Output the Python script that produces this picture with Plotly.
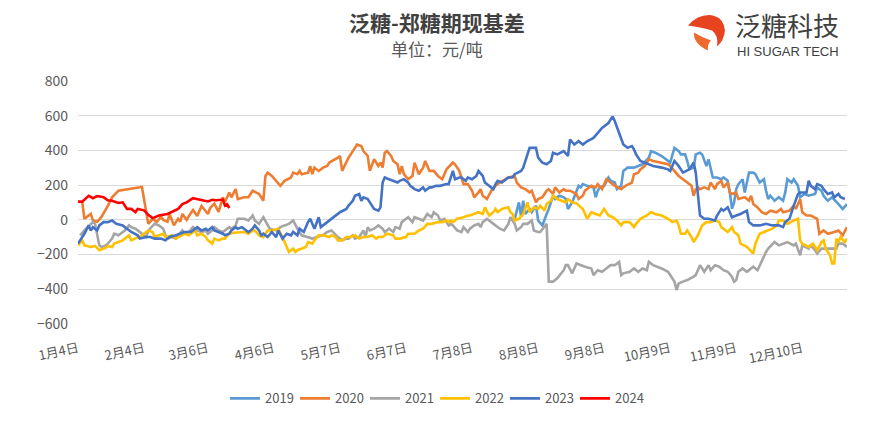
import pandas as pd
import plotly.graph_objects as go

# ---- data: (day of year, basis in 元/吨) ----
S2019 = [(209,6),(211,101),(212,17),(213,110),(214,34),(216,63),(217,44),(219,82),(220,-4),(222,-32),(224,34),(225,63),(227,139),(228,120),(230,139),(232,130),(233,120),(234,63),(236,101),(238,158),(239,196),(240,187),(241,206),(243,196),(246,187),(247,130),(248,168),(249,187),(251,196),(253,244),(254,225),(256,215),(257,177),(259,196),(260,282),(262,301),(265,301),(267,310),(269,320),(272,358),(273,396),(275,387),(278,368),(280,349),(282,330),(284,415),(286,396),(287,377),(289,377),(290,339),(291,291),(293,301),(294,377),(296,387),(297,377),(299,310),(300,349),(302,244),(304,244),(306,234),(307,244),(309,225),(310,158),(311,63),(312,101),(313,177),(314,206),(316,234),(317,158),(318,215),(319,272),(321,272),(322,263),(324,215),(326,234),(327,168),(328,120),(329,139),(331,110),(333,130),(335,110),(336,158),(337,234),(339,215),(340,234),(342,196),(343,130),(345,149),(347,139),(350,149),(351,187),(353,168),(354,139),(356,110),(358,130),(361,91),(363,63),(365,91)]

S2020 = [(6,103),(7,6),(10,34),(11,-4),(13,-11),(15,17),(18,80),(20,130),(23,168),(34,190),(37,-23),(39,6),(41,-11),(43,17),(44,0),(46,-11),(47,34),(49,-32),(51,6),(52,-11),(53,34),(55,0),(57,40),(58,57),(60,23),(62,80),(65,34),(66,67),(68,93),(70,46),(72,130),(73,103),(75,158),(76,130),(78,177),(79,120),(82,130),(84,130),(86,168),(89,149),(90,130),(91,110),(92,253),(93,272),(95,253),(97,225),(99,196),(101,225),(104,244),(105,272),(107,263),(108,282),(109,263),(112,272),(113,310),(114,263),(115,301),(117,282),(119,301),(121,310),(122,330),(126,358),(127,368),(128,282),(130,330),(131,358),(133,396),(134,415),(135,434),(137,425),(138,396),(140,368),(141,282),(143,349),(145,310),(146,330),(147,301),(148,387),(149,396),(151,368),(152,339),(154,320),(155,263),(156,310),(157,263),(159,234),(161,253),(162,330),(164,263),(166,301),(167,339),(169,282),(171,282),(173,253),(175,234),(177,291),(180,330),(181,320),(183,282),(185,206),(187,206),(189,168),(190,130),(192,158),(193,177),(194,139),(196,120),(198,168),(200,196),(202,215),(206,244),(209,253),(210,215),(212,187),(214,177),(216,158),(217,168),(219,101),(220,120),(222,130),(224,168),(225,177),(227,149),(228,187),(230,158),(232,177),(233,168),(235,168),(238,149),(239,120),(241,139),(242,168),(245,196),(247,187),(248,206),(250,177),(252,234),(254,215),(256,196),(259,177),(261,196),(264,215),(265,263),(267,272),(268,291),(270,310),(272,349),(274,339),(277,330),(281,320),(282,310),(284,282),(286,253),(288,234),(290,215),(292,196),(293,139),(294,177),(295,187),(296,177),(298,187),(300,177),(301,215),(303,177),(304,206),(306,225),(307,187),(309,215),(310,158),(311,149),(313,158),(314,120),(317,130),(319,110),(320,139),(321,91),(323,72),(325,44),(327,34),(329,53),(332,44),(334,63),(335,44),(338,53),(340,82),(341,63),(343,120),(344,44),(346,25),(348,25),(351,6),(352,-80),(354,-61),(356,-80),(359,-70),(361,-61),(363,-89),(365,-42)]

S2021 = [(5,-89),(7,-61),(11,-13),(12,-23),(14,-147),(15,-156),(17,-147),(18,-137),(20,-108),(21,-80),(23,-89),(25,-70),(26,-61),(28,-32),(29,-42),(31,-51),(32,-61),(34,-80),(36,-99),(37,-61),(39,-32),(40,-23),(42,-32),(44,-51),(45,-89),(46,-108),(48,-99),(50,-108),(51,-89),(53,-61),(54,-80),(56,-70),(58,-42),(59,-51),(60,-61),(62,-70),(64,-61),(65,-80),(67,-61),(68,-42),(70,-61),(72,-70),(73,-61),(75,-42),(76,-51),(78,-32),(79,6),(82,6),(84,-4),(86,25),(87,-4),(89,-23),(91,15),(93,-32),(94,-51),(97,-61),(99,-42),(101,-32),(103,-23),(105,-4),(106,-32),(107,-51),(109,-89),(112,-99),(114,-108),(116,-99),(119,-89),(121,-70),(123,-61),(126,-99),(128,-118),(130,-108),(131,-108),(133,-89),(134,-108),(136,-99),(138,-61),(139,-99),(140,-42),(141,-61),(143,-51),(145,-32),(147,-51),(148,-70),(150,-51),(152,-70),(153,-42),(155,-51),(156,-13),(158,6),(159,15),(161,-13),(162,15),(164,6),(166,-4),(167,15),(168,34),(170,15),(171,44),(173,25),(174,-4),(176,6),(178,-32),(179,-23),(180,-32),(182,-61),(184,-70),(185,-42),(187,-70),(188,-51),(190,-32),(192,-23),(193,-42),(194,-13),(196,6),(198,-13),(199,-23),(201,-42),(202,-51),(204,-61),(206,-23),(207,15),(209,-23),(210,-61),(212,-42),(213,-23),(215,-23),(217,-4),(218,-61),(220,-70),(221,-70),(224,-23),(225,-356),(227,-356),(229,-337),(232,-290),(233,-261),(234,-261),(236,-308),(238,-251),(240,-261),(242,-270),(245,-280),(246,-318),(248,-290),(250,-299),(252,-280),(254,-261),(256,-261),(258,-242),(259,-318),(260,-308),(263,-299),(265,-280),(267,-299),(269,-280),(271,-290),(272,-242),(274,-261),(278,-280),(281,-299),(282,-318),(284,-356),(285,-404),(286,-366),(288,-356),(290,-347),(293,-327),(294,-318),(295,-290),(296,-261),(298,-299),(300,-261),(301,-290),(303,-261),(305,-270),(307,-290),(309,-299),(311,-327),(312,-356),(313,-347),(314,-299),(316,-280),(318,-299),(319,-290),(321,-270),(323,-290),(325,-232),(327,-185),(328,-166),(331,-128),(333,-147),(335,-137),(337,-128),(340,-147),(341,-137),(343,-204),(344,-147),(347,-166),(348,-147),(350,-175),(351,-194),(353,-166),(355,-166),(358,-166),(360,-166),(361,-137),(363,-137),(365,-156)]

S2022 = [(4,-147),(6,-118),(7,-147),(10,-156),(12,-150),(14,-175),(17,-162),(18,-150),(20,-156),(21,-137),(23,-128),(25,-118),(26,-108),(28,-89),(29,-118),(31,-108),(32,-99),(34,-89),(36,-70),(37,-61),(39,-70),(40,-99),(42,-89),(44,-80),(45,-99),(46,-99),(48,-89),(50,-108),(51,-99),(53,-89),(54,-80),(56,-89),(58,-70),(59,-61),(60,-89),(62,-80),(64,-99),(65,-118),(67,-137),(68,-108),(70,-118),(72,-108),(73,-108),(75,-80),(77,-74),(79,-74),(82,-70),(84,-80),(86,-61),(87,-61),(89,-89),(91,-99),(92,-80),(93,-61),(95,-61),(98,-51),(100,-99),(101,-128),(103,-185),(105,-166),(106,-185),(107,-175),(109,-166),(111,-156),(112,-128),(114,-137),(115,-118),(117,-89),(119,-89),(122,-99),(123,-89),(125,-99),(126,-118),(128,-118),(130,-99),(132,-99),(134,-89),(136,-108),(138,-99),(140,-99),(142,-89),(144,-108),(145,-99),(147,-99),(149,-80),(152,-89),(153,-108),(155,-108),(158,-99),(159,-80),(162,-80),(164,-61),(166,-51),(168,-23),(170,-23),(173,-13),(175,-13),(177,-4),(178,-13),(179,-4),(180,-13),(182,6),(185,15),(187,25),(188,25),(190,34),(192,44),(194,34),(195,72),(197,25),(199,44),(200,63),(201,44),(203,63),(206,72),(207,44),(208,34),(209,-4),(211,6),(213,34),(215,101),(216,44),(218,72),(220,63),(221,82),(223,53),(224,91),(226,110),(227,139),(229,120),(231,110),(233,101),(234,120),(236,101),(238,95),(240,72),(241,63),(243,6),(245,44),(247,34),(249,25),(251,63),(253,25),(255,15),(257,-4),(259,-32),(260,-13),(263,-13),(265,-42),(266,-23),(268,6),(271,25),(273,44),(275,34),(278,25),(281,6),(283,-13),(285,-4),(286,-32),(287,-80),(289,-80),(290,-61),(292,-99),(293,-128),(295,-89),(297,-32),(299,-13),(301,-13),(303,-4),(305,-13),(306,-42),(307,-51),(309,-70),(311,-42),(312,-70),(314,-89),(315,-137),(318,-156),(320,-185),(321,-194),(322,-137),(324,-80),(326,-70),(328,-61),(330,-51),(332,-32),(333,-4),(335,-4),(337,-23),(340,-4),(342,6),(343,-118),(344,-137),(347,-156),(349,-137),(351,-175),(353,-128),(354,-118),(355,-166),(357,-204),(358,-251),(359,-251),(360,-108),(361,-128),(362,-99),(364,-128),(365,-108)]

S2023 = [(4,-137),(6,-99),(7,-80),(9,-32),(10,-61),(11,-42),(13,-61),(14,-32),(16,-13),(18,-13),(20,-4),(22,-23),(25,-32),(27,-51),(29,-70),(32,-89),(33,-108),(36,-99),(38,-99),(40,-108),(43,-108),(45,-118),(47,-99),(50,-89),(52,-80),(54,-70),(57,-70),(59,-51),(60,-42),(62,-61),(64,-51),(65,-61),(67,-42),(68,-61),(70,-70),(72,-80),(73,-89),(75,-80),(76,-61),(78,-42),(79,-51),(81,-42),(83,-61),(84,-70),(86,-51),(87,-32),(89,-61),(90,-89),(91,-80),(93,-99),(95,-70),(97,-99),(98,-61),(100,-108),(102,-80),(104,-89),(105,-70),(107,-89),(108,-51),(110,-70),(112,-13),(113,6),(115,-51),(116,-13),(117,15),(118,-42),(120,-23),(123,6),(125,25),(127,44),(130,63),(131,82),(133,110),(134,139),(136,149),(137,110),(138,130),(140,120),(141,101),(143,63),(145,53),(146,72),(147,215),(148,244),(150,234),(152,225),(154,215),(155,225),(157,234),(159,215),(160,196),(162,177),(164,168),(166,187),(167,168),(169,187),(170,187),(172,196),(174,196),(177,206),(178,206),(180,282),(181,234),(183,244),(184,244),(186,225),(187,244),(189,234),(191,253),(192,282),(194,253),(195,215),(197,196),(199,177),(200,206),(201,225),(203,215),(205,234),(206,244),(208,244),(209,263),(212,282),(213,301),(215,377),(216,415),(219,415),(220,358),(222,330),(224,320),(226,339),(227,387),(229,377),(231,387),(232,396),(234,368),(235,463),(237,434),(239,453),(241,434),(243,453),(246,472),(248,501),(250,530),(253,558),(255,596),(256,568),(258,501),(260,434),(262,415),(264,425),(265,406),(266,377),(268,339),(272,320),(274,310),(278,301),(281,291),(282,282),(284,339),(286,310),(288,272),(291,291),(293,330),(294,272),(295,139),(296,25),(298,6),(300,6),(303,-4),(304,25),(306,63),(307,53),(309,72),(311,15),(313,25),(315,34),(318,53),(319,-13),(321,-32),(324,-32),(327,-23),(330,-32),(333,-32),(335,-42),(336,-13),(338,6),(340,82),(342,149),(343,158),(346,158),(347,225),(348,196),(350,177),(351,206),(353,196),(354,177),(356,149),(358,158),(359,130),(361,149),(362,130),(364,120)]

S2024 = [(4,105),(6,105),(9,139),(11,125),(13,137),(16,130),(18,113),(20,110),(23,97),(25,101),(27,63),(29,63),(31,44),(32,63),(35,55),(37,29),(39,10),(42,25),(46,34),(51,63),(53,91),(55,101),(58,125),(60,120),(62,113),(65,106),(67,115),(69,113),(72,117),(73,82),(74,90),(75,67)]

SERIES = [("2019", S2019, "#5B9BD5"), ("2020", S2020, "#ED7D31"), ("2021", S2021, "#A5A5A5"),
          ("2022", S2022, "#FFC000"), ("2023", S2023, "#4472C4"), ("2024", S2024, "#FF0000")]

TICK_DAYS = [4, 35, 65, 96, 127, 158, 189, 220, 251, 282, 313, 344]
TICK_TEXT = ["1月4日", "2月4日", "3月6日", "4月6日", "5月7日", "6月7日", "7月8日",
             "8月8日", "9月8日", "10月9日", "11月9日", "12月10日"]

BASE = pd.Timestamp("2001-01-01")
def to_date(d):
    return BASE + pd.Timedelta(days=d - 1)

CJK = "Noto Sans CJK SC, sans-serif"
fig = go.Figure()
for name, pts, color in SERIES:
    fig.add_trace(go.Scatter(
        x=[to_date(d) for d, _ in pts], y=[v for _, v in pts], name=name, mode="lines",
        line=dict(color=color, width=2.6), hoverinfo="skip"))

W, H = 883, 425
L, R, T, B = 78, 36, 81, 99
pw, ph = W - L - R, H - T - B
def px(xp):  # figure pixel -> paper x
    return (xp - L) / pw
def py(yp):
    return (H - B - yp) / ph

fig.update_layout(
    width=W, height=H, margin=dict(l=L, r=R, t=T, b=B),
    paper_bgcolor="white", plot_bgcolor="white",
    font=dict(family=CJK, color="#595959", size=13),
    showlegend=True,
    legend=dict(orientation="h", x=px(435), xanchor="center", y=py(401), yanchor="middle",
                font=dict(size=13, color="#595959"), bgcolor="rgba(0,0,0,0)",
                itemwidth=30, entrywidth=25, entrywidthmode="pixels", traceorder="normal"),
    xaxis=dict(type="date", range=[to_date(4), to_date(365)],
               tickvals=[to_date(d) for d in TICK_DAYS], ticktext=TICK_TEXT,
               tickangle=-12, showgrid=False, zeroline=False, showline=False,
               ticks="", ticklabelstandoff=14,
               tickfont=dict(size=13, color="#595959", family=CJK)),
    yaxis=dict(range=[-600, 800], dtick=200, tick0=0, showgrid=True, gridcolor="#D9D9D9",
               gridwidth=1, zeroline=False, showline=False, ticks="",
               ticklabelstandoff=9, tickfont=dict(size=14, color="#595959")),
)

fig.add_annotation(text="泛糖-郑糖期现基差", x=px(437), y=py(22), xref="paper", yref="paper",
                   xanchor="center", yanchor="middle", showarrow=False,
                   font=dict(size=21, color="#404040", family=CJK, weight="bold"))
fig.add_annotation(text="单位：元/吨", x=px(437), y=py(48), xref="paper", yref="paper",
                   xanchor="center", yanchor="middle", showarrow=False,
                   font=dict(size=17, color="#595959", family=CJK))
fig.add_annotation(text="泛糖科技", x=px(733), y=py(24), xref="paper", yref="paper",
                   xanchor="left", yanchor="middle", showarrow=False,
                   font=dict(size=26, color="#404040", family=CJK))
fig.add_annotation(text="HI SUGAR TECH", x=px(735), y=py(51), xref="paper", yref="paper",
                   xanchor="left", yanchor="middle", showarrow=False,
                   font=dict(size=13, color="#404040", family="Liberation Sans, Arial"))

# logo swirl
fig.add_shape(type="path", xref="paper", yref="paper", xsizemode="pixel", ysizemode="pixel",
              xanchor=px(705), yanchor=py(31),
              path="M -17,6 Q -6,18 8,16 Q 19,13 20,1 Q 19,-9 12,-15 Q 14,-4 7,1 Q -3,4 -17,6 Z",
              fillcolor="#E8431F", line=dict(width=0))
fig.add_shape(type="path", xref="paper", yref="paper", xsizemode="pixel", ysizemode="pixel",
              xanchor=px(705), yanchor=py(31),
              path="M -11,-1 Q -12,-12 3,-19 Q 2,-13 6,-9 Q -3,-6 -11,-1 Z",
              fillcolor="#EF6A2C", line=dict(width=0))

fig.write_html("out.html")
